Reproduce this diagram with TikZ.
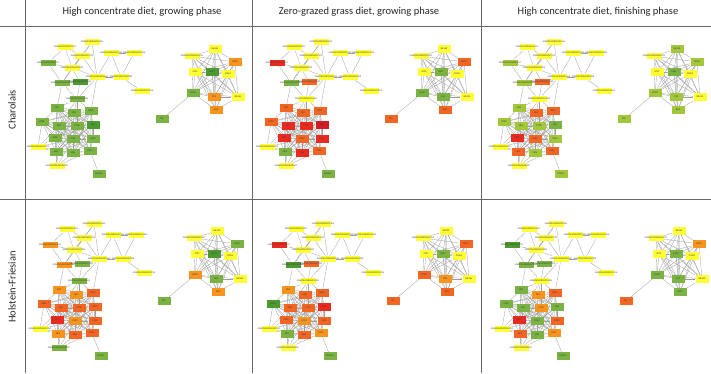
\documentclass[tikz,border=0pt]{standalone}
\usepackage{fontspec}
\setmainfont{Carlito}
\usetikzlibrary{backgrounds}
\definecolor{cY}{HTML}{FFFF33}
\definecolor{cG}{HTML}{7AB342}
\definecolor{cDG}{HTML}{4C9A2F}
\definecolor{cYG}{HTML}{A2C73B}
\definecolor{cO}{HTML}{F7941D}
\definecolor{cDO}{HTML}{F26522}
\definecolor{cR}{HTML}{EA2A1F}
\definecolor{cCR}{HTML}{D51B25}
\newcommand\ens[1]{\makebox[15pt]{ENSBTAG000000#1}}
\def\nodelist{a/65/47/ebox/\ens{12637}, b/92/42/ebox/\ens{09164}, c/82/56/ebox/\ens{21570},
 d/48/63/ebox/\ens{04517}, e/72/68/ebox/\ens{18392}, f/111/53/ebox/\ens{03744},
 g/134/53/ebox/\ens{15206}, h/62/83/ebox/\ens{07821}, i/80/82/ebox/\ens{11093},
 j/97/77/ebox/\ens{26514}, k/121/77/ebox/\ens{02208}, l/142/91/ebox/\ens{33076},
 m/77/99/ebox/\ens{14835},
 nd2/57/108/gbox/ND2, nd1/74/113/gbox/ND1, nd4l/91/111/gbox/ND4L, atp8/42/122/gbox/ATP8,
 nd4/59/126/gbox/ND4, cytb/77/126/gbox/CYTB, nd3/93/125/gbox/ND3, atp6/55/138/gbox/ATP6,
 cox2/73/139/gbox/COX2, cox3/93/139/gbox/COX3, e1/38/147/ebox/\ens{29951},
 nd5/56/152/gbox/ND5, nd6/73/153/gbox/ND6, cox1/90/151/gbox/COX1,
 e2/57/166/ebox/\ens{08337}, pdh/99/174/gbox/PDHA1,
 r1/192/56/ebox/\ens{40211}, r2/215/49/gbox/NR4A2, r3/235/62/gbox/RGS2,
 r4/195/72/gbox/ATF3, r5/212/72/gbox/EGR1, r6/228/74/gbox/CYR61,
 r7/193/93/gbox/FOSB, r8/214/97/gbox/FOS, r9/238/97/gbox/NR4A3,
 r10/216/110/gbox/IER2, iso/162/119/gbox/ID1}
\def\edgelist{a/c, a/d, a/e, b/c, b/j, b/e, c/e, c/j, d/e, d/h, e/h, e/i, e/j, h/i, h/m,
 i/m, i/j, j/f, j/k, j/m, f/k, g/k, k/l, f/g, j/nd4l, c/h,
 m/nd2, m/nd1, m/nd4l, m/cytb, m/nd4, h/nd2,
 e1/atp8, e1/nd4, e1/atp6, e1/nd5, e1/cox2, e1/nd6,
 e2/nd5, e2/nd6, e2/atp6, e2/cox2, e2/cox1, e2/nd4, pdh/cox1, iso/r7}
\def\mitolist{nd2,nd1,nd4l,atp8,nd4,cytb,nd3,atp6,cox2,cox3,nd5,nd6,cox1}
\def\rightlist{r1,r2,r3,r4,r5,r6,r7,r8,r9,r10}
\newcommand\netpanel[4]{%
  \foreach \cc [count=\ii] in {#4} {\expandafter\xdef\csname ncol\ii\endcsname{\cc}}%
  \begin{scope}[shift={(#2,#3)}]
    \foreach \nm/\xx/\yy/\sty/\lab [count=\ii] in \nodelist {
      \edef\fc{\csname ncol\ii\endcsname}
      \node[\sty, fill=\fc] (#1\nm) at (\xx,\yy) {\lab};
    }
    \begin{pgfonlayer}{background}
      \foreach \ea/\eb in \edgelist {\draw[edge] (#1\ea) -- (#1\eb);}
      \foreach \ea [count=\ia] in \mitolist {
        \foreach \eb [count=\ib] in \mitolist {
          \ifnum\ib>\ia \draw[edge] (#1\ea) -- (#1\eb); \fi}}
      \foreach \ea [count=\ia] in \rightlist {
        \foreach \eb [count=\ib] in \rightlist {
          \ifnum\ib>\ia \draw[edge] (#1\ea) -- (#1\eb); \fi}}
    \end{pgfonlayer}
  \end{scope}
}
\begin{document}
\begin{tikzpicture}[x=1pt, y=-1pt,
  gbox/.style={rectangle, minimum width=13pt, minimum height=7.5pt, inner sep=0pt,
    font=\fontsize{2.5}{2.8}\selectfont, text=black!75},
  ebox/.style={rectangle, minimum width=15pt, minimum height=6.5pt, inner sep=0pt,
    font=\fontsize{2.4}{2.6}\selectfont, text=black!75},
  edge/.style={draw=black!38, line width=0.3pt},
  rule/.style={draw=black!60, line width=0.8pt},
  head/.style={font=\fontsize{10.5}{12}\selectfont, text=black!85}]
\useasboundingbox (0,0) rectangle (711,373);
% table rules
\draw[rule] (25,0) -- (25,373);
\draw[rule] (252,0) -- (252,373);
\draw[rule] (481,0) -- (481,373);
\draw[rule] (0,26) -- (711,26);
\draw[rule] (0,199) -- (711,199);
% headers
\node[head] (h1) at (142,12) {High concentrate diet, growing phase};
\node[head] (h2) at (359,12) {Zero-grazed grass diet, growing phase};
\node[head] (h3) at (598,12) {High concentrate diet, finishing phase};
\node[head, rotate=90] (rw1) at (12,110) {Charolais};
\node[head, rotate=90] (rw2) at (12,287) {Holstein-Friesian};
% panels
\netpanel{pa}{0}{0}{cY,cY,cY,cG,cY,cY,cY,cG,cDG,cY,cY,cY,cG, cG,cG,cG,cG,cG,cG,cDG,cG,cG,cG,cY,cG,cG,cG,cY,cG, cY,cY,cO,cY,cDG,cY,cG,cO,cY,cO,cG}
\netpanel{pb}{229}{0}{cY,cY,cY,cR,cY,cY,cY,cG,cDO,cY,cY,cY,cY, cDO,cDO,cDO,cDO,cR,cR,cCR,cR,cDO,cR,cY,cG,cR,cDO,cY,cG, cY,cY,cDO,cY,cG,cY,cG,cG,cY,cDO,cDO}
\netpanel{pc}{462}{0}{cY,cY,cY,cYG,cY,cY,cY,cYG,cDO,cY,cY,cY,cY, cYG,cDO,cDO,cYG,cYG,cYG,cG,cR,cDO,cYG,cY,cDO,cYG,cDO,cY,cYG, cY,cYG,cYG,cY,cG,cY,cYG,cYG,cY,cYG,cYG}
\netpanel{pd}{2}{182}{cY,cY,cY,cO,cY,cY,cY,cO,cG,cY,cY,cY,cG, cO,cO,cDO,cDO,cDO,cDO,cDO,cR,cO,cDO,cY,cO,cDO,cDO,cG,cG, cY,cY,cG,cY,cDG,cY,cO,cG,cY,cO,cG}
\netpanel{pe}{231}{182}{cY,cY,cY,cR,cY,cY,cY,cDG,cDO,cY,cY,cY,cY, cO,cDO,cDO,cDG,cDO,cDO,cR,cDO,cO,cDO,cY,cG,cDO,cO,cY,cG, cY,cY,cDO,cY,cG,cY,cDO,cO,cY,cDO,cDO}
\netpanel{pf}{464}{182}{cY,cY,cY,cDG,cY,cY,cY,cG,cG,cY,cY,cY,cY, cG,cO,cDO,cG,cG,cO,cG,cR,cG,cDO,cY,cDO,cG,cO,cY,cG, cY,cY,cO,cY,cG,cY,cG,cG,cY,cG,cDO}
\end{tikzpicture}
\end{document}
